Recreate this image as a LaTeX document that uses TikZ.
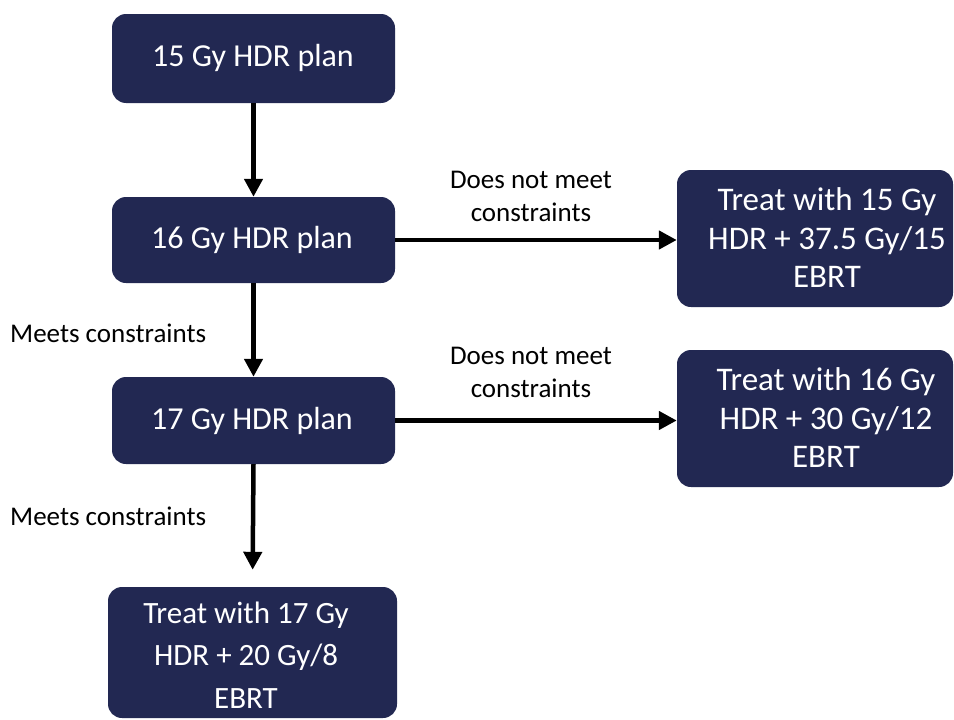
\documentclass[tikz,border=0pt]{standalone}
\usepackage{fontspec}
\setmainfont{Carlito}
\usetikzlibrary{arrows.meta}
\definecolor{navy}{RGB}{34,40,82}
\tikzset{
  box/.style={rectangle, rounded corners=14pt, fill=navy, inner sep=0pt},
  boxtext/.style={text=white, align=center, inner sep=0pt},
  lbl/.style={text=black, align=center, inner sep=0pt, font=\fontsize{27}{33}\selectfont},
  arr/.style={line width=4.5pt, -{Triangle[length=18pt,width=18pt]}}
}
\begin{document}
\begin{tikzpicture}[x=1pt,y=-1pt]
\useasboundingbox (0,0) rectangle (954,720);
% boxes
\node[box, minimum width=283pt, minimum height=89pt] (b1) at (253.5,58.5) {};
\node[box, minimum width=283pt, minimum height=86pt] (b2) at (253.5,240) {};
\node[box, minimum width=283pt, minimum height=87pt] (b3) at (253.5,420.5) {};
\node[box, minimum width=289pt, minimum height=131pt] (b4) at (252.5,652.5) {};
\node[box, minimum width=276pt, minimum height=137pt] (r1) at (815,238.5) {};
\node[box, minimum width=276pt, minimum height=137pt] (r2) at (815,418.5) {};
% box texts
\node[boxtext, font=\fontsize{32}{39}\selectfont] (t1) at (253,58) {15 Gy HDR plan};
\node[boxtext, font=\fontsize{32}{39}\selectfont] (t2) at (252,240) {16 Gy HDR plan};
\node[boxtext, font=\fontsize{32}{39}\selectfont] (t3) at (252,421) {17 Gy HDR plan};
\node[boxtext, font=\fontsize{31}{42.5}\selectfont] (t4) at (246,655) {Treat with 17 Gy\\HDR + 20 Gy/8\\EBRT};
\node[boxtext, font=\fontsize{33}{38.5}\selectfont] (tr1) at (827,238) {Treat with 15 Gy\\HDR + 37.5 Gy/15\\EBRT};
\node[boxtext, font=\fontsize{33}{38.5}\selectfont] (tr2) at (826,418) {Treat with 16 Gy\\HDR + 30 Gy/12\\EBRT};
% connectors
\draw[arr] (b1.south) -- (b2.north);
\draw[arr] (b2.south) -- (b3.north);
\draw[arr, shorten >=17pt] (b3.south) -- (b4.north);
\draw[arr] (b2.east) -- (b2.east -| r1.west);
\draw[arr] (b3.east) -- (b3.east -| r2.west);
% labels
\node[lbl] (l1) at (531,196) {Does not meet\\constraints};
\node[lbl] (l2) at (531,372) {Does not meet\\constraints};
\node[lbl, anchor=west] (l3) at (10,333) {Meets constraints};
\node[lbl, anchor=west] (l4) at (10,516) {Meets constraints};
\end{tikzpicture}
\end{document}
